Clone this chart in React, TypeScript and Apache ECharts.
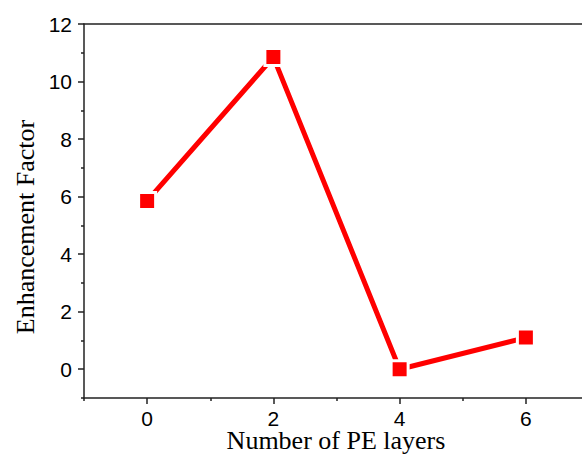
import React, { useEffect, useRef } from "react";
import * as echarts from "echarts";

const layers = [0, 2, 4, 6];
const enhancement = [5.85, 10.85, 0, 1.1];
const xMajorTicks = [0, 2, 4, 6];
const xMinorTicks = [-1, 1, 3, 5];
const yMajorTicks = [0, 2, 4, 6, 8, 10, 12];
const yMinorTicks = [-1, 1, 3, 5, 7, 9, 11];
const xTitle = "Number of PE layers";
const yTitle = "Enhancement Factor";

export default function App() {
  const ref = useRef<HTMLDivElement>(null);
  useEffect(() => {
    if (!ref.current) return;
    const chart = echarts.init(ref.current, null, { renderer: "svg" });
    const axisLine = { show: true, onZero: false, lineStyle: { color: "#222", width: 1.5 } };
    const noLine = { show: false, onZero: false };
    const labelStyle = { fontFamily: "Liberation Sans", fontSize: 21, color: "#000" };
    chart.setOption({
      animation: false,
      backgroundColor: "#fff",
      grid: { left: 84, top: 24, right: -7, bottom: 58, outerBoundsMode: "none", containLabel: false },
      xAxis: [
        {
          type: "value", min: -1, max: 7, interval: 1, position: "bottom",
          axisLine, splitLine: { show: false },
          axisTick: { show: true, length: 6, customValues: xMajorTicks, lineStyle: { color: "#222", width: 1.5 } },
          axisLabel: { ...labelStyle, margin: 10, customValues: xMajorTicks },
        },
        {
          type: "value", min: -1, max: 7, interval: 1, position: "bottom",
          axisLine: noLine, splitLine: { show: false },
          axisTick: { show: true, length: 3, customValues: xMinorTicks, lineStyle: { color: "#222", width: 1.5 } },
          axisLabel: { show: false },
        },
        {
          type: "value", min: -1, max: 7, interval: 1, position: "top",
          axisLine, splitLine: { show: false },
          axisTick: { show: false }, axisLabel: { show: false },
        },
      ],
      yAxis: [
        {
          type: "value", min: -1, max: 12, interval: 1, position: "left",
          axisLine, splitLine: { show: false },
          axisTick: { show: true, length: 6, customValues: yMajorTicks, lineStyle: { color: "#222", width: 1.5 } },
          axisLabel: { ...labelStyle, margin: 12, customValues: yMajorTicks },
        },
        {
          type: "value", min: -1, max: 12, interval: 1, position: "left",
          axisLine: noLine, splitLine: { show: false },
          axisTick: { show: true, length: 3, customValues: yMinorTicks, lineStyle: { color: "#222", width: 1.5 } },
          axisLabel: { show: false },
        },
      ],
      graphic: [
        {
          type: "text", x: 25, y: 227, rotation: Math.PI / 2,
          style: {
            text: yTitle, fontFamily: "Liberation Serif", fontSize: 26,
            fill: "#000", textAlign: "center", textVerticalAlign: "middle",
          },
        },
        {
          type: "text", x: 336, y: 440,
          style: {
            text: xTitle, fontFamily: "Liberation Serif", fontSize: 26,
            fill: "#000", textAlign: "center", textVerticalAlign: "middle",
          },
        },
      ],
      series: [
        {
          type: "line", xAxisIndex: 0, yAxisIndex: 0,
          data: layers.map((x, i) => [x, enhancement[i]]),
          lineStyle: { color: "#ff0000", width: 5 },
          symbol: "rect", symbolSize: 17,
          itemStyle: { color: "#ff0000", borderColor: "#fff", borderWidth: 3 },
          z: 3,
        },
      ],
    });
    return () => chart.dispose();
  }, []);
  return <div ref={ref} style={{ position: "absolute", left: 0, top: 0, width: 582, height: 456 }} />;
}
